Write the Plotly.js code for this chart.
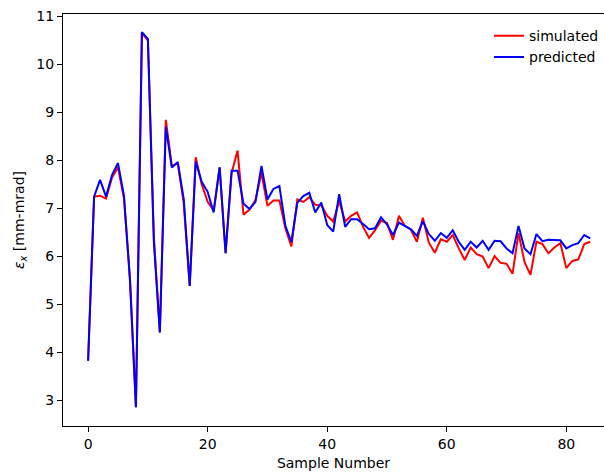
<!DOCTYPE html>
<html>
<head>
<meta charset="utf-8">
<script src="https://cdn.plot.ly/plotly-3.0.1.min.js"></script>
<style>html,body{margin:0;padding:0;background:#fff;}#chart{width:604px;height:472px;}</style>
</head>
<body>
<div id="chart"></div>
<script>
const sampleNumber = Array.from({length: 85}, (_, i) => i);

const simulated = [
  3.82, 7.24, 7.26, 7.20, 7.64, 7.85, 7.20, 5.55, 2.85, 10.65,
  10.50, 6.40, 4.41, 8.84, 7.88, 7.93, 7.10, 5.38, 8.06, 7.50,
  7.13, 6.95, 7.85, 6.06, 7.73, 8.20, 6.86, 6.97, 7.17, 7.73,
  7.05, 7.16, 7.16, 6.58, 6.20, 7.18, 7.13, 7.23, 7.07, 7.06,
  6.84, 6.72, 7.15, 6.72, 6.84, 6.91, 6.61, 6.38, 6.54, 6.74,
  6.69, 6.34, 6.84, 6.63, 6.55, 6.30, 6.80, 6.28, 6.07, 6.35,
  6.30, 6.44, 6.16, 5.92, 6.18, 6.04, 5.99, 5.75, 6.00, 5.86,
  5.84, 5.63, 6.48, 5.88, 5.61, 6.30, 6.25, 6.06, 6.18, 6.27,
  5.75, 5.90, 5.93, 6.25, 6.30
];

const predicted = [
  3.82, 7.24, 7.59, 7.24, 7.69, 7.94, 7.26, 5.50, 2.85, 10.67,
  10.53, 6.30, 4.41, 8.70, 7.85, 7.96, 7.19, 5.38, 7.97, 7.55,
  7.34, 6.91, 7.85, 6.06, 7.78, 7.78, 7.09, 6.98, 7.13, 7.88,
  7.18, 7.40, 7.46, 6.63, 6.30, 7.11, 7.25, 7.32, 6.91, 7.12,
  6.65, 6.51, 7.29, 6.61, 6.77, 6.77, 6.67, 6.56, 6.58, 6.81,
  6.66, 6.44, 6.70, 6.63, 6.56, 6.42, 6.73, 6.46, 6.32, 6.48,
  6.38, 6.54, 6.30, 6.13, 6.30, 6.18, 6.32, 6.13, 6.32, 6.31,
  6.16, 6.06, 6.63, 6.16, 6.04, 6.46, 6.31, 6.34, 6.34, 6.33,
  6.16, 6.23, 6.27, 6.44, 6.37
];

const xTicks = [0, 20, 40, 60, 80];
const yTicks = [3, 4, 5, 6, 7, 8, 9, 10, 11];

const font = {family: 'DejaVu Sans, sans-serif', size: 14, color: '#000'};

const traces = [
  {x: sampleNumber, y: simulated, type: 'scatter', mode: 'lines', name: 'simulated',
   line: {color: '#ff0000', width: 2}},
  {x: sampleNumber, y: predicted, type: 'scatter', mode: 'lines', name: 'predicted',
   line: {color: '#0000ff', width: 2}}
];

const layout = {
  width: 604, height: 472,
  margin: {l: 63, r: 0, t: 14, b: 46, pad: 0},
  paper_bgcolor: '#fff', plot_bgcolor: '#fff',
  font: font,
  showlegend: true,
  legend: {x: 1, y: 0.985, xanchor: 'right', yanchor: 'top', bgcolor: 'rgba(0,0,0,0)',
           borderwidth: 0, font: {family: 'DejaVu Sans, sans-serif', size: 14, color: '#000'},
           itemwidth: 30},
  xaxis: {
    range: [-4.2, 86.3], tickvals: xTicks, ticktext: xTicks.map(String),
    showgrid: false, zeroline: false, showline: true, mirror: true,
    linecolor: '#000', linewidth: 1, ticks: 'outside', ticklen: 5, tickcolor: '#000',
    tickfont: font,
    title: {text: 'Sample Number', font: font, standoff: 7}
  },
  yaxis: {
    range: [2.458, 11.048], tickvals: yTicks, ticktext: yTicks.map(String),
    showgrid: false, zeroline: false, showline: true, mirror: false,
    linecolor: '#000', linewidth: 1, ticks: 'outside', ticklen: 5, tickcolor: '#000',
    tickfont: font,
    title: {text: '<i>ε</i><sub><i>x</i></sub> [mm-mrad]', font: font, standoff: 8}
  }
};

Plotly.newPlot('chart', traces, layout, {displayModeBar: false, staticPlot: true});
</script>
</body>
</html>
